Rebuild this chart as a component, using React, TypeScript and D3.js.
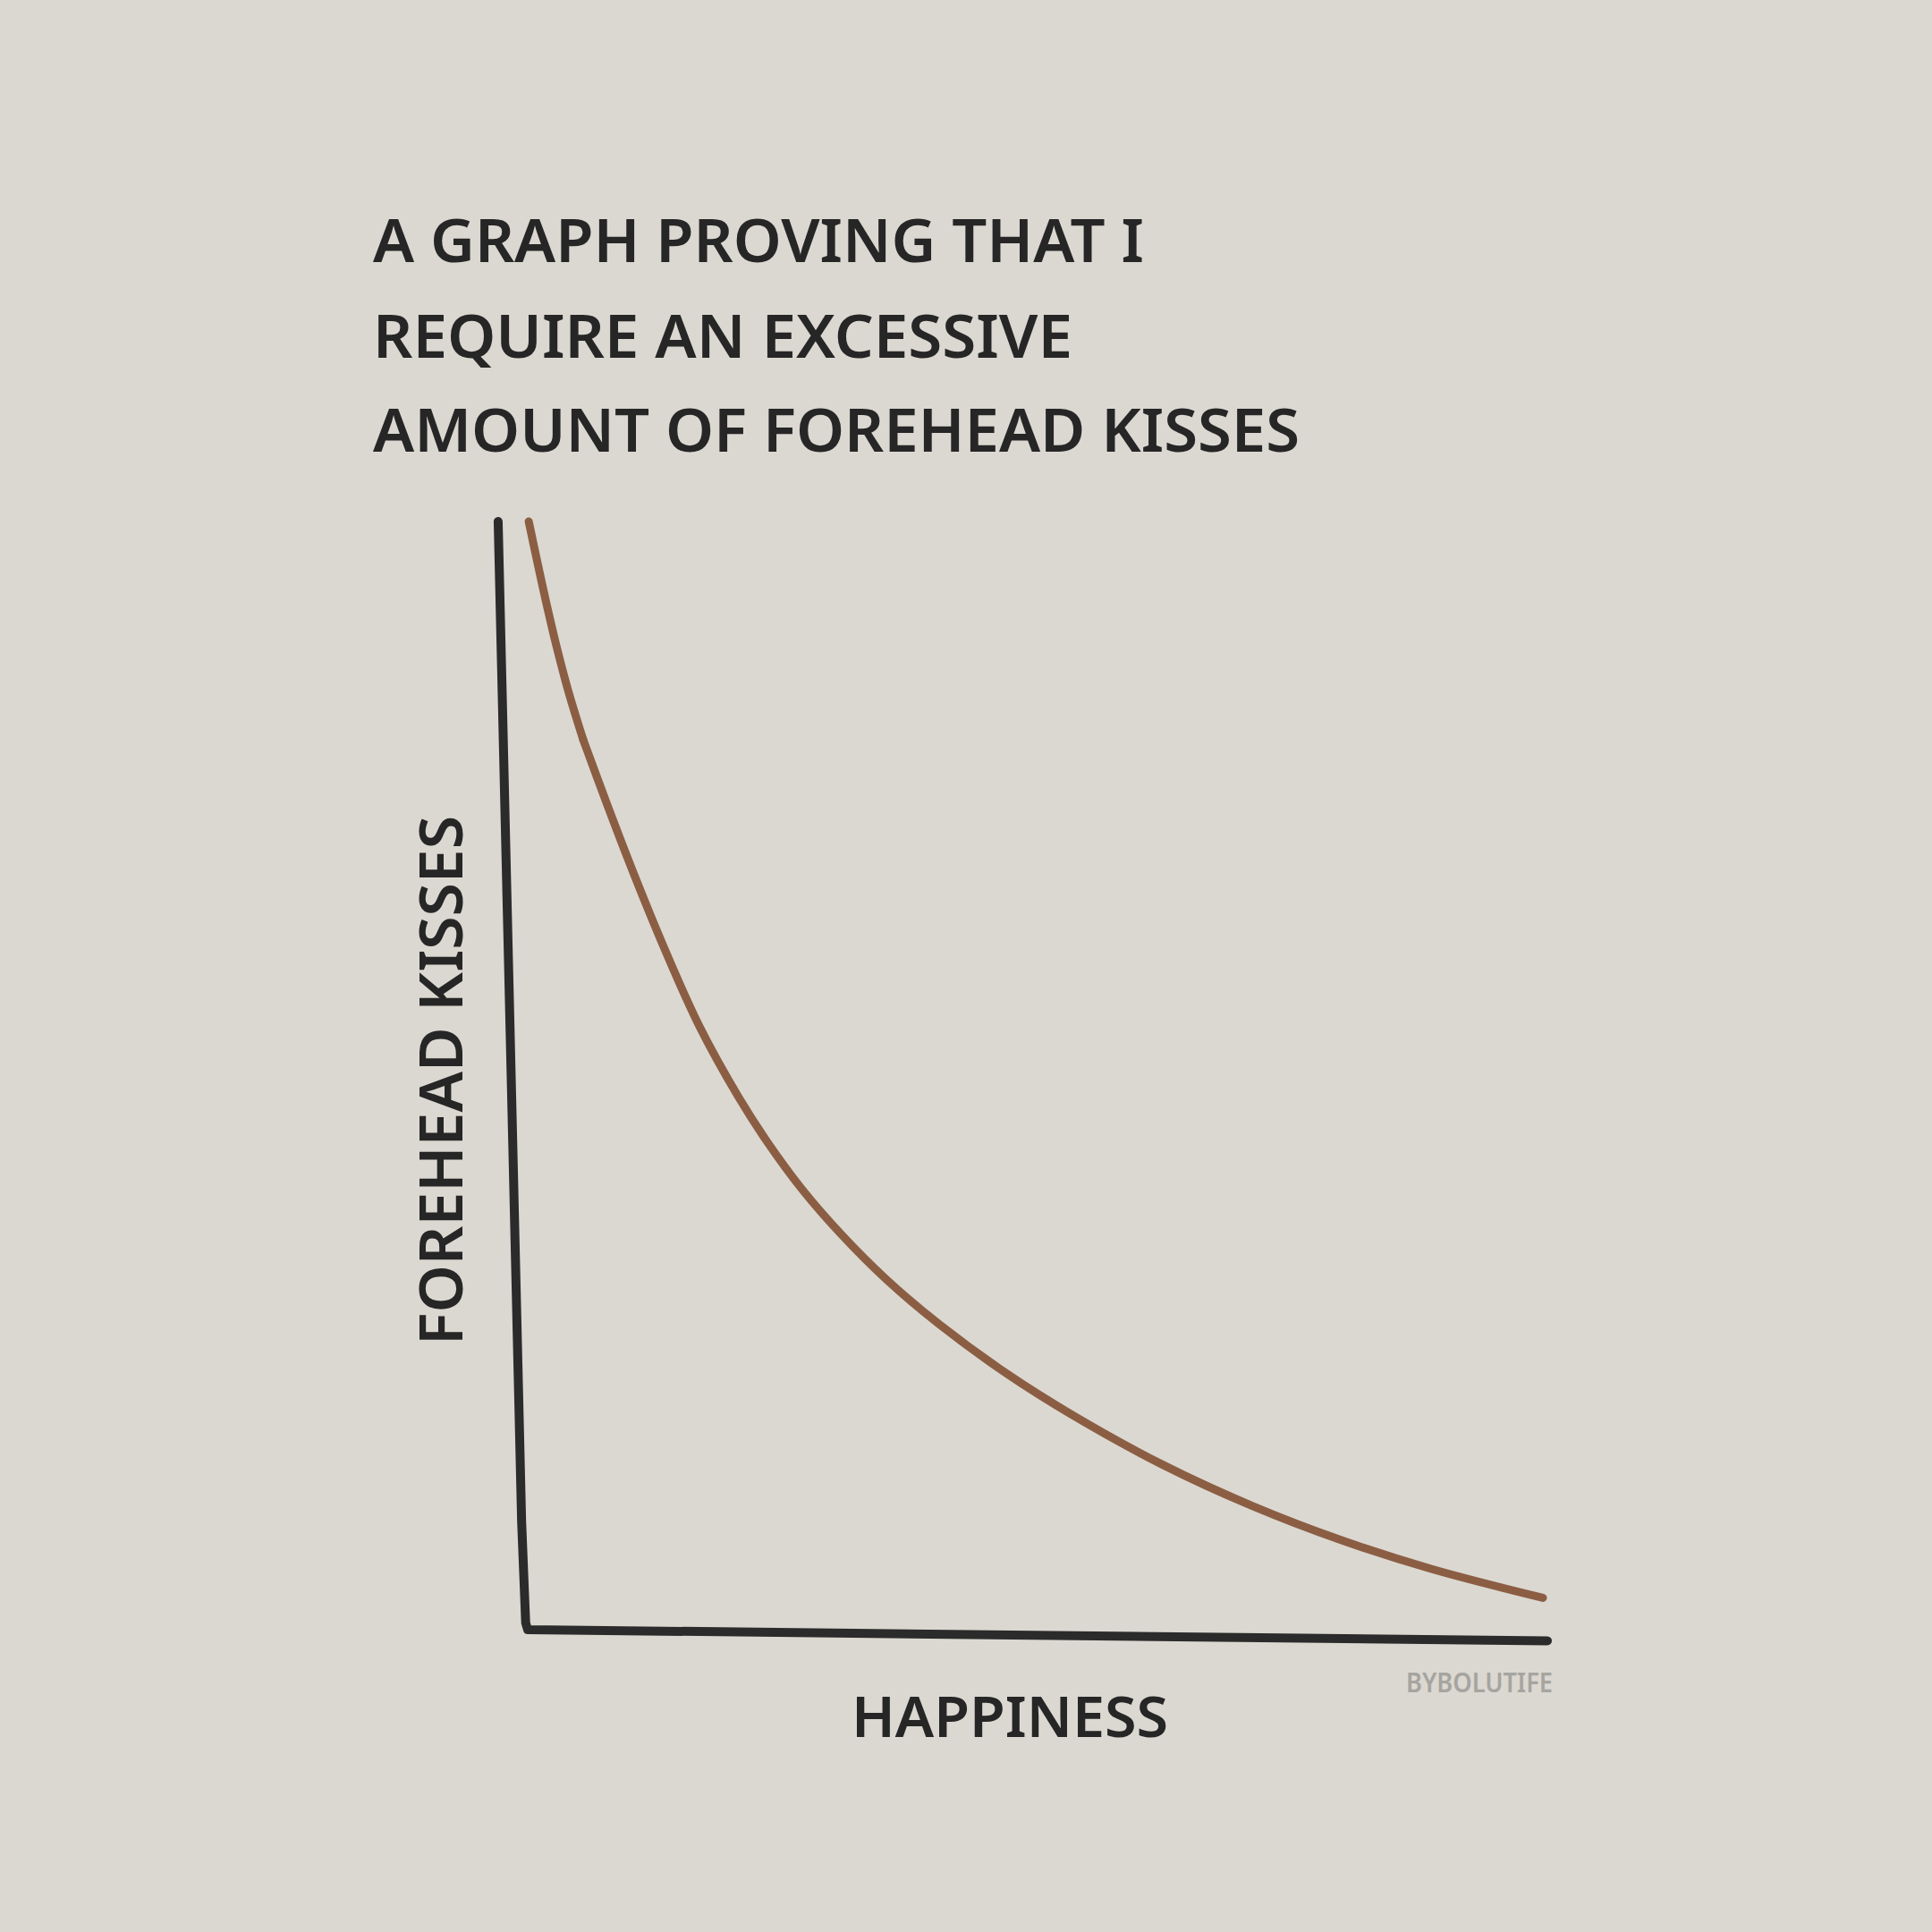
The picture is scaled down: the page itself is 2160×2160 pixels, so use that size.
import React from "react";
import * as d3 from "d3";

// Title lines, axis labels and signature
const titleLines = [
  "A GRAPH PROVING THAT I",
  "REQUIRE AN EXCESSIVE",
  "AMOUNT OF FOREHEAD KISSES",
];
const xLabel = "HAPPINESS";
const yLabel = "FOREHEAD KISSES";
const signature = "BYBOLUTIFE";

// Happiness (x) and forehead kisses (y) along the brown curve
const happiness = [
  0.1, 0.88, 1.84, 2.81, 4.04, 5.44, 7.81, 10.51, 13.39, 16.82, 20.7, 23.51, 26.93,
  30.75, 35.13, 40.41, 47.02, 53.51, 62.28, 71.05, 79.82, 88.6, 99.56,
];
const foreheadKisses = [
  100, 96.61, 92.57, 88.78, 84.5, 80.31, 74.41, 67.96, 61.5, 54.48, 48.02, 43.99, 39.71,
  35.67, 31.64, 27.52, 23.08, 19.32, 14.88, 11.17, 8.07, 5.49, 2.87,
];
// The curve has a sharp bend at this point: steep drop above, long decay below
const bendIndex = 5;

// Hand-drawn axis outline (data units): leaning y-axis, corner, slightly tilted x-axis
const axisX = [-2.9, -0.6, -0.2, 0, 100];
const axisY = [100, 9.8, 0.6, 0, -1.0];

const W = 2160;
const H = 2160;

export default function App() {
  const x = d3.scaleLinear().domain([0, 100]).range([590, 1730]);
  const y = d3.scaleLinear().domain([0, 100]).range([1822, 583]);

  const curvePts: [number, number][] = happiness.map((h, i) => [h, foreheadKisses[i]]);
  const steepPart = curvePts.slice(0, bendIndex + 1);
  const decayPart = curvePts.slice(bendIndex);
  const axisPts: [number, number][] = axisX.map((v, i) => [v, axisY[i]]);

  const curveLine = d3
    .line<[number, number]>()
    .x((d) => x(d[0]))
    .y((d) => y(d[1]))
    .curve(d3.curveCatmullRom.alpha(0.5));

  const axisLine = d3
    .line<[number, number]>()
    .x((d) => x(d[0]))
    .y((d) => y(d[1]))
    .curve(d3.curveLinear);

  const font = "'Noto Sans', 'Open Sans', sans-serif";
  const ink = "#262626";
  const brown = "#8b5e43";

  const titleX = 417;
  const titleBaselines = [293, 400, 505];
  const titleWidths = [862, 782, 1036];

  return (
    <svg
      width={W}
      height={H}
      viewBox={`0 0 ${W} ${H}`}
      style={{ position: "absolute", left: 0, top: 0, display: "block" }}
    >
      <rect x={0} y={0} width={W} height={H} fill="#dbd8d1" />

      {titleLines.map((t, i) => (
        <text
          key={i}
          x={titleX}
          y={titleBaselines[i]}
          fontFamily={font}
          fontWeight={600}
          fontSize={66}
          fill={ink}
          textLength={titleWidths[i]}
          lengthAdjust="spacingAndGlyphs"
        >
          {t}
        </text>
      ))}

      <path
        d={axisLine(axisPts) || ""}
        fill="none"
        stroke="#2b2b2b"
        strokeWidth={10}
        strokeLinecap="round"
        strokeLinejoin="round"
      />

      {[steepPart, decayPart].map((part, i) => (
        <path
          key={i}
          d={curveLine(part) || ""}
          fill="none"
          stroke={brown}
          strokeWidth={9}
          strokeLinecap="round"
          strokeLinejoin="round"
        />
      ))}

      <text
        x={952}
        y={1942}
        fontFamily={font}
        fontWeight={600}
        fontSize={64}
        fill={ink}
        textLength={354}
        lengthAdjust="spacingAndGlyphs"
      >
        {xLabel}
      </text>

      <text
        transform="translate(517,1504) rotate(-90)"
        x={0}
        y={0}
        fontFamily={font}
        fontWeight={600}
        fontSize={66}
        fill={ink}
        textLength={592}
        lengthAdjust="spacingAndGlyphs"
      >
        {yLabel}
      </text>

      <text
        x={1572}
        y={1892}
        fontFamily={font}
        fontWeight={600}
        fontSize={31}
        fill="#a6a49f"
        textLength={164}
        lengthAdjust="spacingAndGlyphs"
      >
        {signature}
      </text>
    </svg>
  );
}
